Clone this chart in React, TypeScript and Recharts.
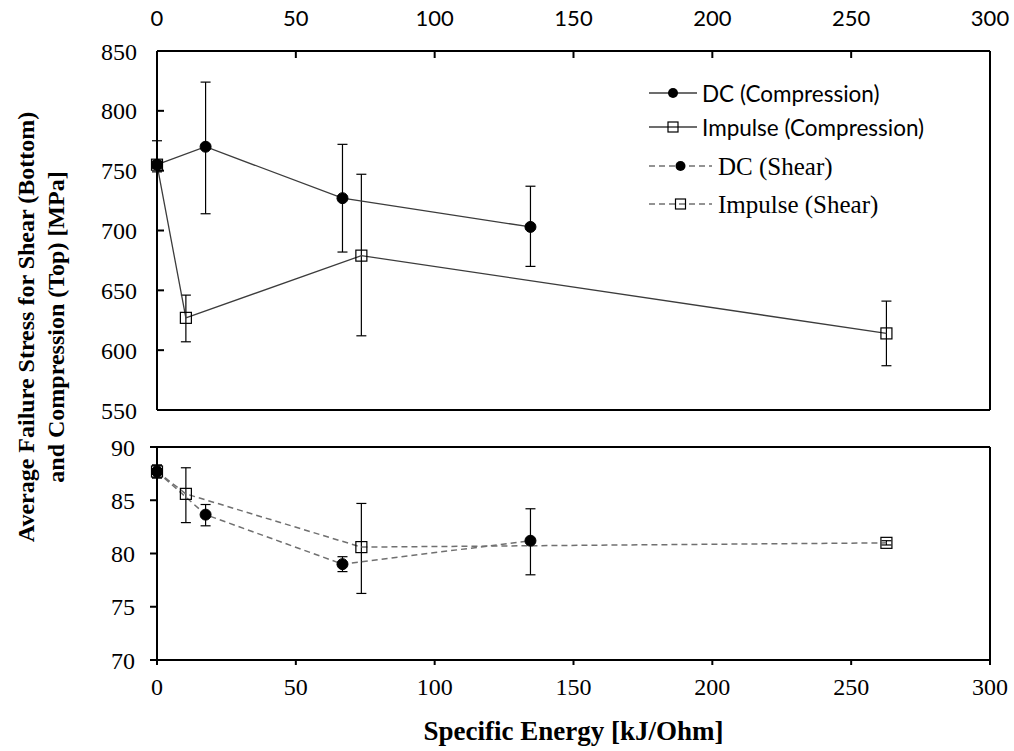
import React from 'react';
import { ComposedChart, Line, XAxis, YAxis, ErrorBar } from 'recharts';

// specific energy [kJ/Ohm] of each test group
const dcEnergy = [0, 17.5, 66.8, 134.5];
const impulseEnergy = [0, 10.4, 73.6, 262.7];

// compression failure stress [MPa] and error (minus, plus)
const dcCompression = [755, 770, 727, 703];
const dcCompressionErr = [[6, 20], [56, 54], [45, 45], [33, 34]];
const impulseCompression = [755, 627, 679, 614];
const impulseCompressionErr = [[3, 3], [20, 19], [67, 68], [27, 27]];

// shear failure stress [MPa] and error (minus, plus)
const dcShear = [87.7, 83.65, 79.0, 81.2];
const dcShearErr = [[0.6, 0.6], [1.05, 0.95], [0.7, 0.7], [3.2, 3.0]];
const impulseShear = [87.7, 85.6, 80.6, 81.0];
const impulseShearErr = [[0.6, 0.6], [2.7, 2.45], [4.35, 4.1], [0.2, 0.2]];

const energyTicks = [0, 50, 100, 150, 200, 250, 300];
const compressionTicks = [550, 600, 650, 700, 750, 800, 850];
const shearTicks = [70, 75, 80, 85, 90];
const shearMinorTicks = [70, 72.5, 75, 77.5, 80, 82.5, 85, 87.5, 90];

const seriesNames = ['DC (Compression)', 'Impulse (Compression)', 'DC (Shear)', 'Impulse (Shear)'];

const toPoints = (xs: number[], ys: number[], errs: number[][]) =>
  xs.map((x, i) => ({ energy: x, value: ys[i], err: errs[i] }));

const SERIF = '"Liberation Serif", "Times New Roman", serif';
const SANS = 'Lato, "Open Sans", sans-serif';
const axisLine = { stroke: '#000', strokeWidth: 2 };
const tickLine = { stroke: '#000', strokeWidth: 2 };
const solid = '#3c3c3c';
const dashed = '#707070';

const CircleDot = (props: any) => {
  const { cx, cy, index } = props;
  if (cx == null || cy == null) return <g key={`c-${index}`} />;
  return <circle key={`c-${index}`} cx={cx} cy={cy} r={5.5} fill="#000" stroke="#000" />;
};

const SquareDot = (props: any) => {
  const { cx, cy, index } = props;
  if (cx == null || cy == null) return <g key={`s-${index}`} />;
  return <rect key={`s-${index}`} x={cx - 5.5} y={cy - 5.5} width={11} height={11} fill="none" stroke="#000" strokeWidth={1.2} />;
};

const Overlay = () => {
  const rows = [93, 127, 166, 204];
  return (
    <svg width={1014} height={751} style={{ position: 'absolute', left: 0, top: 0, pointerEvents: 'none' }}>
      <g fontFamily={SERIF} fontWeight="bold" fontSize={24} fill="#000">
        <text transform="translate(26,327) rotate(-90)" textAnchor="middle" dominantBaseline="central">
          Average Failure Stress for Shear (Bottom)
        </text>
        <text transform="translate(56,327) rotate(-90)" textAnchor="middle" dominantBaseline="central">
          and Compression (Top) [MPa]
        </text>
      </g>
      {seriesNames.map((name, i) => {
        const isShear = i >= 2;
        const y = rows[i];
        const x1 = 649;
        const x2 = isShear ? 712 : 697;
        const mx = (x1 + x2) / 2;
        return (
          <g key={name}>
            <line x1={x1} x2={x2} y1={y} y2={y} stroke={isShear ? dashed : solid}
              strokeWidth={isShear ? 1.5 : 1.3} strokeDasharray={isShear ? '6 4' : undefined} />
            {i % 2 === 0
              ? <circle cx={mx} cy={y} r={5} fill="#000" />
              : <rect x={mx - 5} y={y - 5} width={10} height={10} fill="none" stroke="#000" strokeWidth={1.2} />}
            <text x={isShear ? 718 : 702} y={y} dominantBaseline="central"
              fontFamily={isShear ? SERIF : SANS} fontSize={isShear ? 25 : 22.5} fill="#000">
              {name}
            </text>
          </g>
        );
      })}
    </svg>
  );
};

export default function App() {
  const dcComp = toPoints(dcEnergy, dcCompression, dcCompressionErr);
  const impComp = toPoints(impulseEnergy, impulseCompression, impulseCompressionErr);
  const dcSh = toPoints(dcEnergy, dcShear, dcShearErr);
  const impSh = toPoints(impulseEnergy, impulseShear, impulseShearErr);

  return (
    <div style={{ position: 'absolute', left: 0, top: 0, width: 1014, height: 751, background: '#fff' }}>
      {/* Top panel: compression */}
      <div style={{ position: 'absolute', left: 0, top: 0 }}>
        <ComposedChart width={1014} height={430} margin={{ top: 0, right: 0, bottom: 0, left: 0 }}>
          <XAxis xAxisId="top" orientation="top" dataKey="energy" type="number" domain={[0, 300]}
            ticks={energyTicks} height={51} tickSize={-7} tickMargin={32}
            axisLine={axisLine} tickLine={tickLine}
            tick={{ fill: '#000', fontFamily: SANS, fontSize: 22 }} />
          <XAxis xAxisId="topFrame" orientation="bottom" dataKey="energy" type="number" domain={[0, 300]}
            allowDataOverflow ticks={energyTicks} height={20} tickSize={-7} tick={false}
            axisLine={axisLine} tickLine={tickLine} />
          <YAxis yAxisId="left" orientation="left" type="number" domain={[550, 850]}
            ticks={compressionTicks} width={157} tickSize={-7} tickMargin={27}
            axisLine={axisLine} tickLine={tickLine}
            tick={{ fill: '#000', fontFamily: SERIF, fontSize: 24 }} />
          <YAxis yAxisId="right" orientation="right" type="number" domain={[550, 850]}
            allowDataOverflow ticks={compressionTicks} width={24} tickSize={-7} tick={false}
            axisLine={axisLine} tickLine={tickLine} />
          <Line xAxisId="top" yAxisId="left" data={impComp} dataKey="value" name={seriesNames[1]}
            type="linear" stroke={solid} strokeWidth={1.3} dot={SquareDot} activeDot={false}
            isAnimationActive={false}>
            <ErrorBar dataKey="err" direction="y" width={5} stroke="#000" strokeWidth={1.2} isAnimationActive={false} />
          </Line>
          <Line xAxisId="top" yAxisId="left" data={dcComp} dataKey="value" name={seriesNames[0]}
            type="linear" stroke={solid} strokeWidth={1.3} dot={CircleDot} activeDot={false}
            isAnimationActive={false}>
            <ErrorBar dataKey="err" direction="y" width={5} stroke="#000" strokeWidth={1.2} isAnimationActive={false} />
          </Line>
        </ComposedChart>
      </div>

      {/* Bottom panel: shear */}
      <div style={{ position: 'absolute', left: 0, top: 420 }}>
        <ComposedChart width={1014} height={331} margin={{ top: 0, right: 0, bottom: 0, left: 0 }}>
          <XAxis xAxisId="shearTop" orientation="top" dataKey="energy" type="number" domain={[0, 300]}
            allowDataOverflow ticks={energyTicks} height={27} tickSize={-7} tick={false}
            axisLine={axisLine} tickLine={tickLine} />
          <XAxis xAxisId="bottom" orientation="bottom" dataKey="energy" type="number" domain={[0, 300]}
            ticks={energyTicks} height={91} tickSize={5} tickMargin={13}
            axisLine={axisLine} tickLine={tickLine}
            tick={{ fill: '#000', fontFamily: SERIF, fontSize: 24 }}
            label={{ value: 'Specific Energy [kJ/Ohm]', position: 'insideBottom', offset: 11,
              fill: '#000', fontFamily: SERIF, fontWeight: 'bold', fontSize: 27 }} />
          <YAxis yAxisId="left" orientation="left" type="number" domain={[70, 90]}
            ticks={shearTicks} width={157} tickSize={7} tickMargin={15}
            axisLine={axisLine} tickLine={tickLine}
            tick={{ fill: '#000', fontFamily: SERIF, fontSize: 24 }} />
          <YAxis yAxisId="right" orientation="right" type="number" domain={[70, 90]}
            allowDataOverflow ticks={shearMinorTicks} width={24} tickSize={-7} tick={false}
            axisLine={axisLine} tickLine={tickLine} />
          <Line xAxisId="bottom" yAxisId="left" data={impSh} dataKey="value" name={seriesNames[3]}
            type="linear" stroke={dashed} strokeWidth={1.5} strokeDasharray="6 4" dot={SquareDot}
            activeDot={false} isAnimationActive={false}>
            <ErrorBar dataKey="err" direction="y" width={5} stroke="#000" strokeWidth={1.2} isAnimationActive={false} />
          </Line>
          <Line xAxisId="bottom" yAxisId="left" data={dcSh} dataKey="value" name={seriesNames[2]}
            type="linear" stroke={dashed} strokeWidth={1.5} strokeDasharray="6 4" dot={CircleDot}
            activeDot={false} isAnimationActive={false}>
            <ErrorBar dataKey="err" direction="y" width={5} stroke="#000" strokeWidth={1.2} isAnimationActive={false} />
          </Line>
        </ComposedChart>
      </div>

      <Overlay />
    </div>
  );
}
